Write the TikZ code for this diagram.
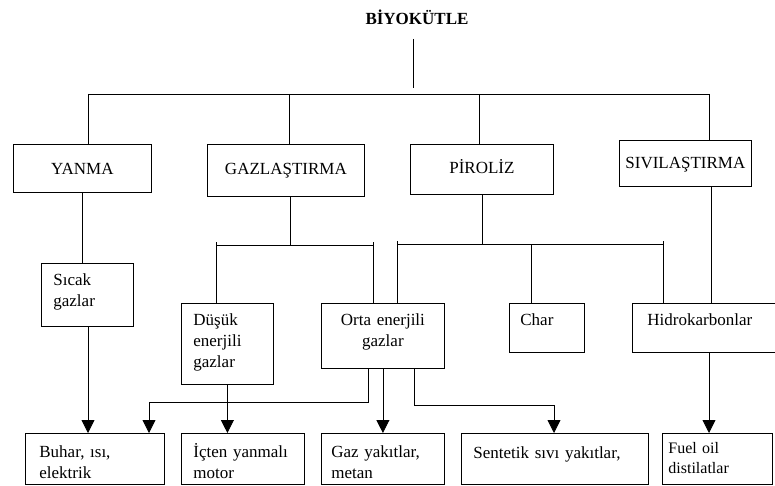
\documentclass[tikz,border=0pt]{standalone}
\usepackage{fontspec}
\setmainfont{Liberation Serif}
\usetikzlibrary{arrows.meta}

\begin{document}
\begin{tikzpicture}[x=1pt, y=-1pt, line width=0.8pt, font=\fontsize{17}{21}\selectfont]
        \tikzstyle{box}=[draw, anchor=north west, inner ysep=0pt, align=left]
        \tikzstyle{cbox}=[box, align=center, inner xsep=4pt]
        \tikzstyle{arr}=[-{Triangle[width=13pt, length=13pt]}]
        \useasboundingbox (0,0) rectangle (775,486);
        % top
        \node[font=\fontsize{17}{21}\selectfont\bfseries, anchor=base] (bio) at (417,25) {BİYOKÜTLE};
        % processes
        \node[cbox, text width=130pt, text height=30pt, text depth=18pt] (yanma) at (13,144) {YANMA};
        \node[cbox, text width=149pt, text height=30pt, text depth=22pt] (gazl) at (207,144) {GAZLAŞTIRMA};
        \node[cbox, text width=135pt, text height=29pt, text depth=21pt] (piroliz) at (410,144) {PİROLİZ};
        \node[cbox, text width=124pt, text height=28pt, text depth=18pt] (sivi) at (619,140) {SIVILAŞTIRMA};
        % intermediate products
        \node[box, inner xsep=12pt, text width=68pt, text height=22pt, text depth=41pt] (sicak) at (41,263) {Sıcak\\gazlar};
        \node[box, inner xsep=12pt, text width=68pt, text height=22pt, text depth=59pt] (dusuk) at (181,303) {Düşük\\enerjili\\gazlar};
        \node[cbox, text width=115pt, text height=22pt, text depth=43pt] (orta) at (321,303) {Orta enerjili\\gazlar};
        \node[box, inner xsep=11pt, text width=53pt, text height=22pt, text depth=27pt] (char) at (509,303) {Char};
        \node[box, inner xsep=15pt, text width=116pt, text height=22pt, text depth=27pt] (hidro) at (632,303) {Hidrokarbonlar};
        % end products
        \node[box, inner xsep=14pt, text width=111pt, text height=24pt, text depth=27pt] (buhar) at (25,433) {Buhar, ısı,\\elektrik};
        \node[box, inner xsep=12pt, text width=99pt, text height=24pt, text depth=27pt] (icten) at (181,433) {İçten yanmalı\\motor};
        \node[box, inner xsep=10pt, text width=103pt, text height=24pt, text depth=27pt] (gazyak) at (321,433) {Gaz yakıtlar,\\metan};
        \node[box, inner xsep=12pt, text width=163pt, text height=25pt, text depth=26pt] (sentetik) at (461,433) {Sentetik sıvı yakıtlar,};
        \node[box, inner xsep=6pt, text width=98pt, text height=20pt, text depth=31pt, font=\fontsize{16}{20}\selectfont] (fuel) at (662,433) {Fuel oil\\distilatlar};

        % first level bus
        \coordinate (stem) at (413,88);
        \coordinate (busL) at (88,94);
        \coordinate (busR) at (709,94);
        \coordinate (xgaz) at (289,94);
        \coordinate (xpir) at (479,94);
        \draw ([yshift=-14pt]bio.base -| stem) -- (stem);
        \draw (busL) -- (busR);
        \draw (busL) -- (busL |- yanma.north);
        \draw (xgaz) -- (xgaz |- gazl.north);
        \draw (xpir) -- (xpir |- piroliz.north);
        \draw (busR) -- (busR |- sivi.north);

        % second level
        \coordinate (g1) at (216,245);
        \coordinate (g2) at (373,245);
        \coordinate (g0) at (290,245);
        \coordinate (p1) at (397,244);
        \coordinate (p2) at (663,244);
        \coordinate (p3) at (531,244);
        \coordinate (xsiv) at (711,0);
        \draw (yanma.south) -- (yanma.south |- sicak.north);
        \draw (gazl.south -| g0) -- (g0);
        \draw (g1) -- (g2);
        \draw ([yshift=3pt]g1) -- (g1 |- dusuk.north);
        \draw ([yshift=3pt]g2) -- (g2 |- orta.north);
        \draw (piroliz.south) -- (piroliz.south |- p1);
        \draw (p1) -- (p2);
        \draw ([yshift=3pt]p1) -- (p1 |- orta.north);
        \draw (p3) -- (p3 |- char.north);
        \draw ([yshift=3pt]p2) -- (p2 |- hidro.north);
        \draw (sivi.south -| xsiv) -- (hidro.north -| xsiv);

        % arrows to end products
        \coordinate (xsic) at (88,0);
        \coordinate (o1) at (368,402);
        \coordinate (o2) at (149,402);
        \coordinate (o3) at (414,405);
        \coordinate (o4) at (554,405);
        \coordinate (xhid) at (709,0);
        \draw[arr] (sicak.south -| xsic) -- (buhar.north -| xsic);
        \draw[arr] (orta.south -| o1) -- (o1) -- (o2) -- (o2 |- buhar.north);
        \draw[arr] (dusuk.south) -- (dusuk.south |- icten.north);
        \draw[arr] (orta.south) -- (orta.south |- gazyak.north);
        \draw[arr] (orta.south -| o3) -- (o3) -- (o4) -- (o4 |- sentetik.north);
        \draw[arr] (hidro.south -| xhid) -- (fuel.north -| xhid);
\end{tikzpicture}
\end{document}
